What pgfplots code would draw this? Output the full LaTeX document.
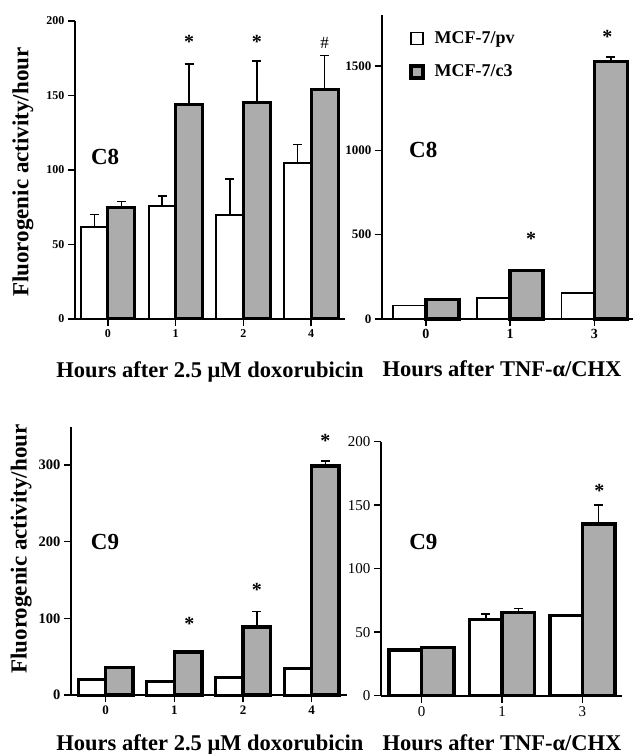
\documentclass[border=0pt]{standalone}
\usepackage{pgfplots}
\pgfplotsset{compat=1.18}
\usepackage{fontspec}
\setmainfont{Liberation Serif}
\definecolor{barfill}{RGB}{172,172,172}
\newcommand{\fs}[1]{\fontsize{#1}{#1}\selectfont}
\pgfplotsset{
  panel/.style={
    scale only axis, anchor=south west, ybar,
    axis x line*=bottom, axis y line*=left,
    axis line style={line width=2pt,-},
    tick align=outside, major tick length=7pt,
    tick style={line width=1.5pt,black},
    /pgf/number format/assume math mode=true,
    /pgf/number format/set thousands separator={},
    ymin=0, enlargelimits=false, clip=false,
    error bars/y dir=plus, error bars/y explicit,
    error bars/error bar style={line width=1.5pt,black},
    error bars/error mark options={rotate=90,line width=1.5pt,black,mark size=4.5pt},
  },
  wbar/.style={fill=white,draw=black},
  gbar/.style={fill=barfill,draw=black},
}
\begin{document}
\begin{tikzpicture}
\path[use as bounding box] (0,0) rectangle (634pt,754pt);
% ---------------- Panel 1: C8, doxorubicin
\begin{axis}[panel, at={(75pt,435pt)}, width=270pt, height=298pt,
  xmin=-0.485, xmax=3.5, ymax=200, bar width=27pt,
  ytick={0,50,100,150,200}, xtick={0,1,2,3}, xticklabels={0,1,2,4},
  ticklabel style={font=\bfseries\fs{12}},
  xlabel={Hours after 2.5 μM doxorubicin},
  xlabel style={at={(axis description cs:0.5,-0.195)}, anchor=base, font=\bfseries\fs{22.5}},
  ylabel={Fluorogenic activity/hour},
  ylabel style={at={(axis description cs:-0.193,0.493)}, anchor=center, font=\bfseries\fs{23}}]
\addplot[wbar, line width=2pt, bar shift=-13.5pt] coordinates {(0,62) +- (0,8) (1,76) +- (0,6.5) (2,70) +- (0,24) (3,105) +- (0,12)};
\addplot[gbar, line width=3pt, bar shift=13.5pt] coordinates {(0,75) +- (0,4) (1,144) +- (0,27) (2,145) +- (0,28) (3,154) +- (0,23)};
\node[font=\bfseries\fs{23}] at (axis cs:-0.04,109) {C8};
\node[font=\bfseries\fs{20}, xshift=13.5pt, yshift=-2pt] at (axis cs:1,187) {*};
\node[font=\bfseries\fs{20}, xshift=13.5pt, yshift=-2pt] at (axis cs:2,187) {*};
\node[font=\fs{17}, xshift=13.5pt] at (axis cs:3,185) {\#};
\end{axis}
% ---------------- Panel 2: C8, TNF
\begin{axis}[panel, at={(382pt,435pt)}, width=251pt, height=303.7pt,
  axis line style={line width=1.6pt},
  xmin=-0.52, xmax=2.46, ymax=1800, bar width=33pt,
  ytick={0,500,1000,1500}, xtick={0,1,2}, xticklabels={0,1,3},
  yticklabel style={font=\bfseries\fs{13}},
  xticklabel style={font=\bfseries\fs{14}},
  xlabel={Hours after TNF-α/CHX},
  xlabel style={at={(axis description cs:0.478,-0.191)}, anchor=base, font=\bfseries\fs{22.5}},
  legend style={at={(axis description cs:0.095,0.96)}, anchor=north west, draw=none, fill=none,
    font=\bfseries\fs{18}, row sep=16pt},
  legend cell align=left,
  legend image code/.code={\draw[#1] (0pt,-6pt) rectangle (12pt,6pt); \path (20pt,0pt);}]
\addplot[wbar, line width=1.5pt, bar shift=-16.5pt] coordinates {(0,80) +- (0,0) (1,123) +- (0,0) (2,155) +- (0,0)};
\addplot[gbar, line width=3.5pt, bar shift=16.5pt] coordinates {(0,115) +- (0,0) (1,288) +- (0,0) (2,1525) +- (0,28)};
\legend{MCF-7/pv, MCF-7/c3}
\node[font=\bfseries\fs{23}] at (axis cs:-0.03,1002) {C8};
\node[font=\bfseries\fs{20}, xshift=21pt, yshift=-2pt] at (axis cs:1,488) {*};
\node[font=\bfseries\fs{20}, xshift=13pt, yshift=-2pt] at (axis cs:2,1683) {*};
\end{axis}
% ---------------- Panel 3: C9, doxorubicin
\begin{axis}[panel, at={(71pt,59pt)}, width=275.7pt, height=268.3pt,
  xmin=-0.505, xmax=3.51, ymax=350, bar width=27.5pt,
  ytick={0,100,200,300}, xtick={0,1,2,3}, xticklabels={0,1,2,4},
  yticklabel style={font=\bfseries\fs{14.5}},
  xticklabel style={font=\bfseries\fs{13}},
  xlabel={Hours after 2.5 μM doxorubicin},
  xlabel style={at={(axis description cs:0.504,-0.205)}, anchor=base, font=\bfseries\fs{22.5}},
  ylabel={Fluorogenic activity/hour},
  ylabel style={at={(axis description cs:-0.181,0.544)}, anchor=center, font=\bfseries\fs{23}}]
\addplot[wbar, line width=3pt, bar shift=-13.75pt] coordinates {(0,20) +- (0,0) (1,17) +- (0,0) (2,23) +- (0,0) (3,34) +- (0,0)};
\addplot[gbar, line width=3.5pt, bar shift=13.75pt] coordinates {(0,36) +- (0,0) (1,56) +- (0,0) (2,89) +- (0,20) (3,299) +- (0,6.5)};
\node[font=\bfseries\fs{23}] at (axis cs:-0.01,199.5) {C9};
\node[font=\bfseries\fs{20}, xshift=15pt, yshift=-2pt] at (axis cs:1,95) {*};
\node[font=\bfseries\fs{20}, xshift=13.75pt, yshift=-2pt] at (axis cs:2,139.5) {*};
\node[font=\bfseries\fs{20}, xshift=13.75pt, yshift=-2pt] at (axis cs:3,334.7) {*};
\end{axis}
% ---------------- Panel 4: C9, TNF
\begin{axis}[panel, at={(381pt,58.3pt)}, width=240.7pt, height=254pt,
  xmin=-0.507, xmax=2.49, ymax=200, bar width=32.5pt,
  ytick={0,50,100,150,200}, xtick={0,1,2}, xticklabels={0,1,3},
  yticklabel style={font=\fs{15}},
  xticklabel style={font=\fs{15}},
  xlabel={Hours after TNF-α/CHX},
  xlabel style={at={(axis description cs:0.503,-0.214)}, anchor=base, font=\bfseries\fs{22.5}}]
\addplot[wbar, line width=3.5pt, bar shift=-16.25pt] coordinates {(0,36) +- (0,0) (1,60) +- (0,4.5) (2,63) +- (0,0)};
\addplot[gbar, line width=3.5pt, bar shift=16.25pt] coordinates {(0,38) +- (0,0) (1,65.5) +- (0,3) (2,135) +- (0,15)};
\node[font=\bfseries\fs{23}] at (axis cs:0.02,121) {C9};
\node[font=\bfseries\fs{20}, xshift=17pt, yshift=-2pt] at (axis cs:2,163) {*};
\end{axis}
\end{tikzpicture}
\end{document}
